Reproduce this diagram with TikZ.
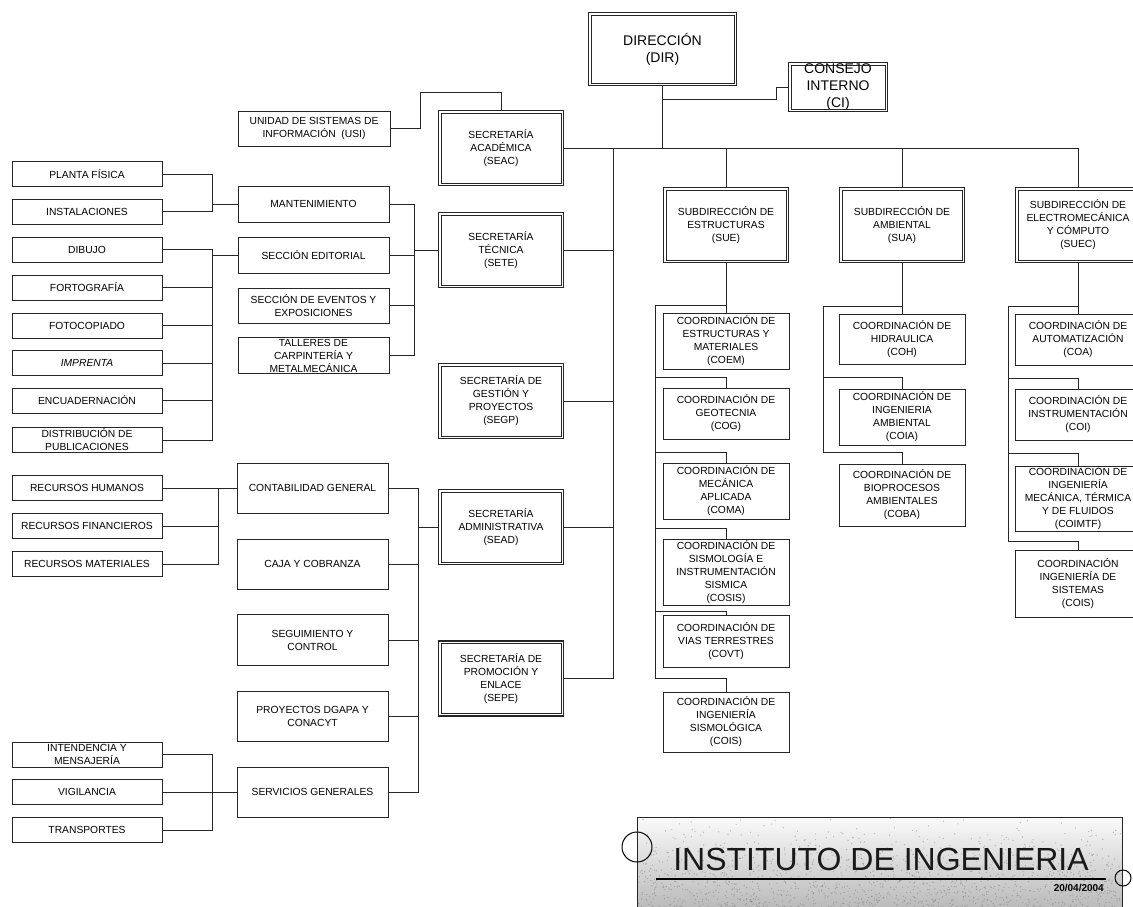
\documentclass[tikz,border=0pt]{standalone}
\usepackage{fontspec}
\setmainfont{Liberation Sans}
\pgfdeclarelayer{background}
\pgfsetlayers{background,main}
\begin{document}
\begin{tikzpicture}[x=1pt,y=-1pt,
  ln/.style={draw=black!85, line width=0.9pt},
  box/.style={draw=black!85, line width=0.9pt, fill=white, inner sep=0pt,
    align=center, font=\fontsize{10.3}{13}\selectfont},
  dbox/.style={box, line width=1.1pt, minimum width=125pt, minimum height=75pt},
  lbox/.style={box, minimum width=150pt, minimum height=25pt},
  mbox/.style={box, minimum width=151pt},
  cbox/.style={box, minimum width=126pt},
]
\useasboundingbox (0,0) rectangle (1133,906);
\clip (0,0) rectangle (1133,906);

% ---- direction and council
\node[dbox, minimum width=148pt, minimum height=73pt,
      font=\fontsize{14}{17}\selectfont] (dir) at (662.5,49) {DIRECCIÓN\\(DIR)};
\node[dbox, minimum width=99pt, minimum height=49pt,
      font=\fontsize{14}{17}\selectfont] (ci) at (838,87) {CONSEJO\\INTERNO\\(CI)};

% ---- secretarías
\node[dbox] (seac) at (501,148)   {SECRETARÍA\\ACADÉMICA\\(SEAC)};
\node[dbox] (sete) at (501,250)   {SECRETARÍA\\TÉCNICA\\(SETE)};
\node[dbox] (segp) at (501,401)   {SECRETARÍA DE\\GESTIÓN Y\\PROYECTOS\\(SEGP)};
\node[dbox] (sead) at (501,527)   {SECRETARÍA\\ADMINISTRATIVA\\(SEAD)};
\node[dbox] (sepe) at (501,678.5) {SECRETARÍA DE\\PROMOCIÓN Y\\ENLACE\\(SEPE)};

% ---- subdirecciones
\node[dbox] (sue)  at (726,225)  {SUBDIRECCIÓN DE\\ESTRUCTURAS\\(SUE)};
\node[dbox] (sua)  at (902,225)  {SUBDIRECCIÓN DE\\AMBIENTAL\\(SUA)};
\node[dbox] (suec) at (1078,225) {SUBDIRECCIÓN DE\\ELECTROMECÁNICA\\Y CÓMPUTO\\(SUEC)};

% inner line of every double-framed box
\foreach \n in {dir,ci,seac,sete,segp,sead,sepe,sue,sua,suec}
  \draw[draw=black!85, line width=0.8pt]
    ([shift={(3pt,-3pt)}]\n.north west) rectangle ([shift={(-3pt,3pt)}]\n.south east);

% ---- middle column
\node[box, minimum width=152pt, minimum height=35pt] (usi) at (314,128.5)
  {UNIDAD DE SISTEMAS DE\\INFORMACIÓN\ \ (USI)};
\node[mbox, minimum height=36pt] (mant)  at (313.5,204)   {MANTENIMIENTO};
\node[mbox, minimum height=36pt] (edit)  at (313.5,255)   {SECCIÓN EDITORIAL};
\node[mbox, minimum height=35pt] (event) at (313.5,305.5) {SECCIÓN DE EVENTOS Y\\EXPOSICIONES};
\node[mbox, minimum height=36pt] (tall)  at (313.5,355.5) {TALLERES DE\\CARPINTERÍA Y\\METALMECÁNICA};
\node[mbox, minimum height=50pt] (contab) at (312.5,488) {CONTABILIDAD GENERAL};
\node[mbox, minimum height=50pt] (caja)   at (312.5,564) {CAJA Y COBRANZA};
\node[mbox, minimum height=51pt] (segui)  at (312.5,640) {SEGUIMIENTO Y\\CONTROL};
\node[mbox, minimum height=50pt] (proy)   at (312.5,716) {PROYECTOS DGAPA Y\\CONACYT};
\node[mbox, minimum height=50pt] (serv)   at (312.5,792) {SERVICIOS GENERALES};

% ---- left column
\node[lbox] (planta) at (87,174)   {PLANTA FÍSICA};
\node[lbox] (instal) at (87,211.5) {INSTALACIONES};
\node[lbox] (dibujo) at (87,249.5) {DIBUJO};
\node[lbox] (fotog)  at (87,287.5) {FORTOGRAFÍA};
\node[lbox] (fotoc)  at (87,325.5) {FOTOCOPIADO};
\node[lbox] (impr)   at (87,363)   {\textit{IMPRENTA}};
\node[lbox] (encu)   at (87,400.5) {ENCUADERNACIÓN};
\node[lbox] (distr)  at (87,440)   {DISTRIBUCIÓN DE\\PUBLICACIONES};
\node[lbox] (rh)     at (87,488)   {RECURSOS HUMANOS};
\node[lbox] (rf)     at (87,526)   {RECURSOS FINANCIEROS};
\node[lbox] (rm)     at (87,564)   {RECURSOS MATERIALES};
\node[lbox] (intend) at (87,754.5) {INTENDENCIA Y\\MENSAJERÍA};
\node[lbox] (vigil)  at (87,792)   {VIGILANCIA};
\node[lbox] (transp) at (87,830)   {TRANSPORTES};

% ---- coordinaciones
\node[cbox, minimum height=56pt] (coem)  at (726,341)   {COORDINACIÓN DE\\ESTRUCTURAS Y\\MATERIALES\\(COEM)};
\node[cbox, minimum height=51pt] (cog)   at (726,413.5) {COORDINACIÓN DE\\GEOTECNIA\\(COG)};
\node[cbox, minimum height=56pt] (coma)  at (726,491)   {COORDINACIÓN DE\\MECÁNICA\\APLICADA\\(COMA)};
\node[cbox, minimum height=66pt] (cosis) at (726,572)   {COORDINACIÓN DE\\SISMOLOGÍA E\\INSTRUMENTACIÓN\\SISMICA\\(COSIS)};
\node[cbox, minimum height=52pt] (covt)  at (726,641)   {COORDINACIÓN DE\\VIAS TERRESTRES\\(COVT)};
\node[cbox, minimum height=60pt] (cois)  at (726,722)   {COORDINACIÓN DE\\INGENIERÍA\\SISMOLÓGICA\\(COIS)};

\node[cbox, minimum height=50pt] (coh)  at (902,339) {COORDINACIÓN DE\\HIDRAULICA\\(COH)};
\node[cbox, minimum height=56pt] (coia) at (902,417) {COORDINACIÓN DE\\INGENIERIA\\AMBIENTAL\\(COIA)};
\node[cbox, minimum height=62pt] (coba) at (902,495) {COORDINACIÓN DE\\BIOPROCESOS\\AMBIENTALES\\(COBA)};

\node[cbox, minimum height=51pt] (coa)    at (1078,339.5) {COORDINACIÓN DE\\AUTOMATIZACIÓN\\(COA)};
\node[cbox, minimum height=51pt] (coi)    at (1078,414.5) {COORDINACIÓN DE\\INSTRUMENTACIÓN\\(COI)};
\node[cbox, minimum height=65pt] (coimtf) at (1078,498.5) {COORDINACIÓN DE\\INGENIERÍA\\MECÁNICA, TÉRMICA\\Y DE FLUIDOS\\(COIMTF)};
\node[cbox, minimum height=67pt] (coisx)  at (1078,583.5) {COORDINACIÓN\\INGENIERÍA DE\\SISTEMAS\\(COIS)};

% ---- connectors
\begin{pgfonlayer}{background}
  % top level
  \draw[ln] (dir.south) -- (dir.south |- seac.east);
  \draw[ln] (seac.east) -- (suec.north |- seac.east) -- (suec.north);
  \draw[ln] (sue.north |- seac.east) -- (sue.north);
  \draw[ln] (sua.north |- seac.east) -- (sua.north);
  \coordinate (cij) at (776,99);
  \draw[ln] (dir.south |- cij) -- (cij) -- (cij |- ci.west) -- (ci.west);
  \coordinate (usij) at (420,92);
  \draw[ln] (usi.east) -- (usij |- usi.east) -- (usij) -- (seac.north |- usij) -- (seac.north);

  % trunk of the secretarías
  \coordinate (trk) at (613,0);
  \draw[ln] (trk |- seac.east) -- (trk |- sepe.east) -- (sepe.east);
  \foreach \s in {sete,segp,sead} \draw[ln] (\s.east) -- (trk |- \s.east);

  % secretaría técnica
  \coordinate (tb) at (414,0);
  \draw[ln] (mant.east) -- (tb |- mant.east) -- (tb |- tall.east) -- (tall.east);
  \foreach \s in {edit,event} \draw[ln] (\s.east) -- (tb |- \s.east);
  \draw[ln] (sete.west) -- (tb |- sete.west);

  % mantenimiento and sección editorial
  \coordinate (mb) at (212,0);
  \draw[ln] (planta.east) -- (mb |- planta.east) -- (mb |- instal.east) -- (instal.east);
  \draw[ln] (mant.west) -- (mb |- mant.west);
  \draw[ln] (dibujo.east) -- (mb |- dibujo.east) -- (mb |- distr.east) -- (distr.east);
  \foreach \s in {fotog,fotoc,impr,encu} \draw[ln] (\s.east) -- (mb |- \s.east);
  \draw[ln] (edit.west) -- (mb |- edit.west);

  % contabilidad general
  \coordinate (cb) at (218,0);
  \draw[ln] (rh.east) -- (contab.west);
  \draw[ln] (cb |- rh.east) -- (cb |- rm.east) -- (rm.east);
  \draw[ln] (rf.east) -- (cb |- rf.east);

  % secretaría administrativa
  \coordinate (ab) at (418,0);
  \draw[ln] (contab.east) -- (ab |- contab.east) -- (ab |- serv.east) -- (serv.east);
  \foreach \s in {caja,segui,proy} \draw[ln] (\s.east) -- (ab |- \s.east);
  \draw[ln] (sead.west) -- (ab |- sead.west);

  % servicios generales
  \draw[ln] (vigil.east) -- (serv.west);
  \draw[ln] (intend.east) -- (mb |- intend.east) -- (mb |- transp.east) -- (transp.east);

  % subdirección de estructuras
  \coordinate (sueg) at (655,305);
  \foreach \b/\y in {cog/377, coma/452, cosis/528, covt/611, cois/678} {
    \coordinate (\b-j) at (655,\y);
    \draw[ln] (\b-j) -- (\b-j -| \b.north) -- (\b.north);
  }
  \draw[ln] (sue.south) -- (coem.north);
  \draw[ln] (sue.south |- sueg) -- (sueg) -- (cois-j);

  % subdirección de ambiental
  \coordinate (suag) at (823,306);
  \foreach \b/\y in {coia/377, coba/452} {
    \coordinate (\b-j) at (823,\y);
    \draw[ln] (\b-j) -- (\b-j -| \b.north) -- (\b.north);
  }
  \draw[ln] (sua.south) -- (coh.north);
  \draw[ln] (sua.south |- suag) -- (suag) -- (coba-j);

  % subdirección de electromecánica y cómputo
  \coordinate (suecg) at (1008,306);
  \foreach \b/\y in {coi/378, coimtf/453, coisx/541} {
    \coordinate (\b-j) at (1008,\y);
    \draw[ln] (\b-j) -- (\b-j -| \b.north) -- (\b.north);
  }
  \draw[ln] (suec.south) -- (coa.north);
  \draw[ln] (suec.south |- suecg) -- (suecg) -- (coisx-j);
\end{pgfonlayer}

% ---- title plate: grey gradient with a grainy print texture
\path[top color=gray!4, bottom color=gray!58] (637,817) rectangle (1122,915);
\begin{scope}
  \clip (637,817) rectangle (1122,915);
  \pgfmathsetseed{4217}
  \foreach \i in {1,...,1400} {
    \pgfmathsetmacro{\px}{637+485*rnd}
    \pgfmathsetmacro{\py}{817+92*sqrt(rnd)}
    \fill[black!55, opacity=0.45] (\px,\py) circle[radius=0.7pt];
  }
\end{scope}
\draw[draw=black!85, line width=0.9pt] (637,917) -- (637,817) -- (1122,817) -- (1122,917);
\node[anchor=base, inner sep=0pt, text=black!90, font=\fontsize{32}{32}\selectfont] (title)
  at (881,870) {INSTITUTO DE INGENIERIA};
\draw[line width=1.3pt] (656,879) -- (1106,879);
\node[anchor=base east, inner sep=0pt, font=\bfseries\fontsize{10}{10}\selectfont] (date)
  at (1104,891) {20/04/2004};
\draw[line width=1pt] (637,847) circle[radius=15pt];
\draw[line width=1pt] (1123,878) circle[radius=8pt];
\end{tikzpicture}
\end{document}
